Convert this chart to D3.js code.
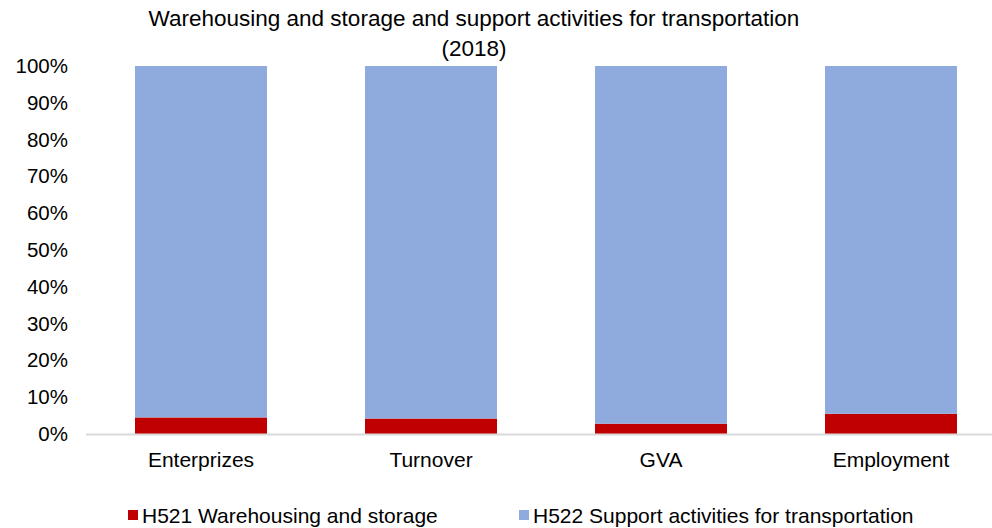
<!DOCTYPE html>
<html><head><meta charset="utf-8">
<script src="https://cdn.jsdelivr.net/npm/d3@7"></script>
<style>body{margin:0;background:#fff}svg{display:block}</style>
</head><body>
<script>
const categories = ["Enterprizes", "Turnover", "GVA", "Employment"];
const h521 = [4.5, 4.2, 2.8, 5.5];
const h522 = h521.map(v => 100 - v);
const seriesNames = ["H521 Warehousing and storage", "H522 Support activities for transportation"];
const colors = ["#c00000", "#8faadc"];
const ticks = [0,10,20,30,40,50,60,70,80,90,100];

const W = 992, H = 528;
const FONT = "'Liberation Sans', Arial, sans-serif";
const svg = d3.select("body").append("svg").attr("width", W).attr("height", H)
  .style("font-family", FONT);

const x = d3.scaleBand().domain(categories).range([86, 1006]).paddingInner(98/230).paddingOuter(49/230);
const y = d3.scaleLinear().domain([0, 100]).range([434, 66]);

const data = categories.map((c, i) => ({cat: c, a: h521[i], b: h522[i]}));
const stack = d3.stack().keys(["a", "b"])(data);

svg.append("g").selectAll("g").data(stack).join("g")
  .attr("fill", (d, i) => colors[i])
  .selectAll("rect").data(d => d).join("rect")
  .attr("x", d => x(d.data.cat))
  .attr("width", x.bandwidth())
  .attr("y", d => y(d[1]))
  .attr("height", d => y(d[0]) - y(d[1]));

// axis line
svg.append("line").attr("x1", 86).attr("x2", 992).attr("y1", y(0)+0.5).attr("y2", y(0)+0.5)
  .attr("stroke", "#d9d9d9").attr("stroke-width", 2);

// y tick labels
const yAxis = svg.append("g").attr("transform", "translate(68,0)")
  .call(d3.axisLeft(y).tickValues(ticks).tickFormat(d => d + "%").tickSize(0).tickPadding(0));
yAxis.select(".domain").remove();
yAxis.selectAll("text").attr("font-size", 20.5).attr("fill", "#000").attr("font-family", FONT);

// x labels
const xAxis = svg.append("g").attr("transform", `translate(0,${y(0)})`)
  .call(d3.axisBottom(x).tickSize(0).tickPadding(18));
xAxis.select(".domain").remove();
xAxis.selectAll("text").attr("font-size", 21).attr("fill", "#000").attr("font-family", FONT);

// title
svg.append("text").attr("x", 474).attr("y", 26).attr("text-anchor", "middle")
  .attr("font-size", 22.5).text("Warehousing and storage and support activities for transportation");
svg.append("text").attr("x", 474).attr("y", 56).attr("text-anchor", "middle")
  .attr("font-size", 22.5).text("(2018)");

// legend
const legX = [128, 519];
const leg = svg.append("g");
seriesNames.forEach((n, i) => {
  leg.append("rect").attr("x", legX[i]).attr("y", 510).attr("width", 10).attr("height", 10).attr("fill", colors[i]);
  leg.append("text").attr("x", legX[i] + 14).attr("y", 523).attr("font-size", 21).text(n);
});
</script>
</body></html>
